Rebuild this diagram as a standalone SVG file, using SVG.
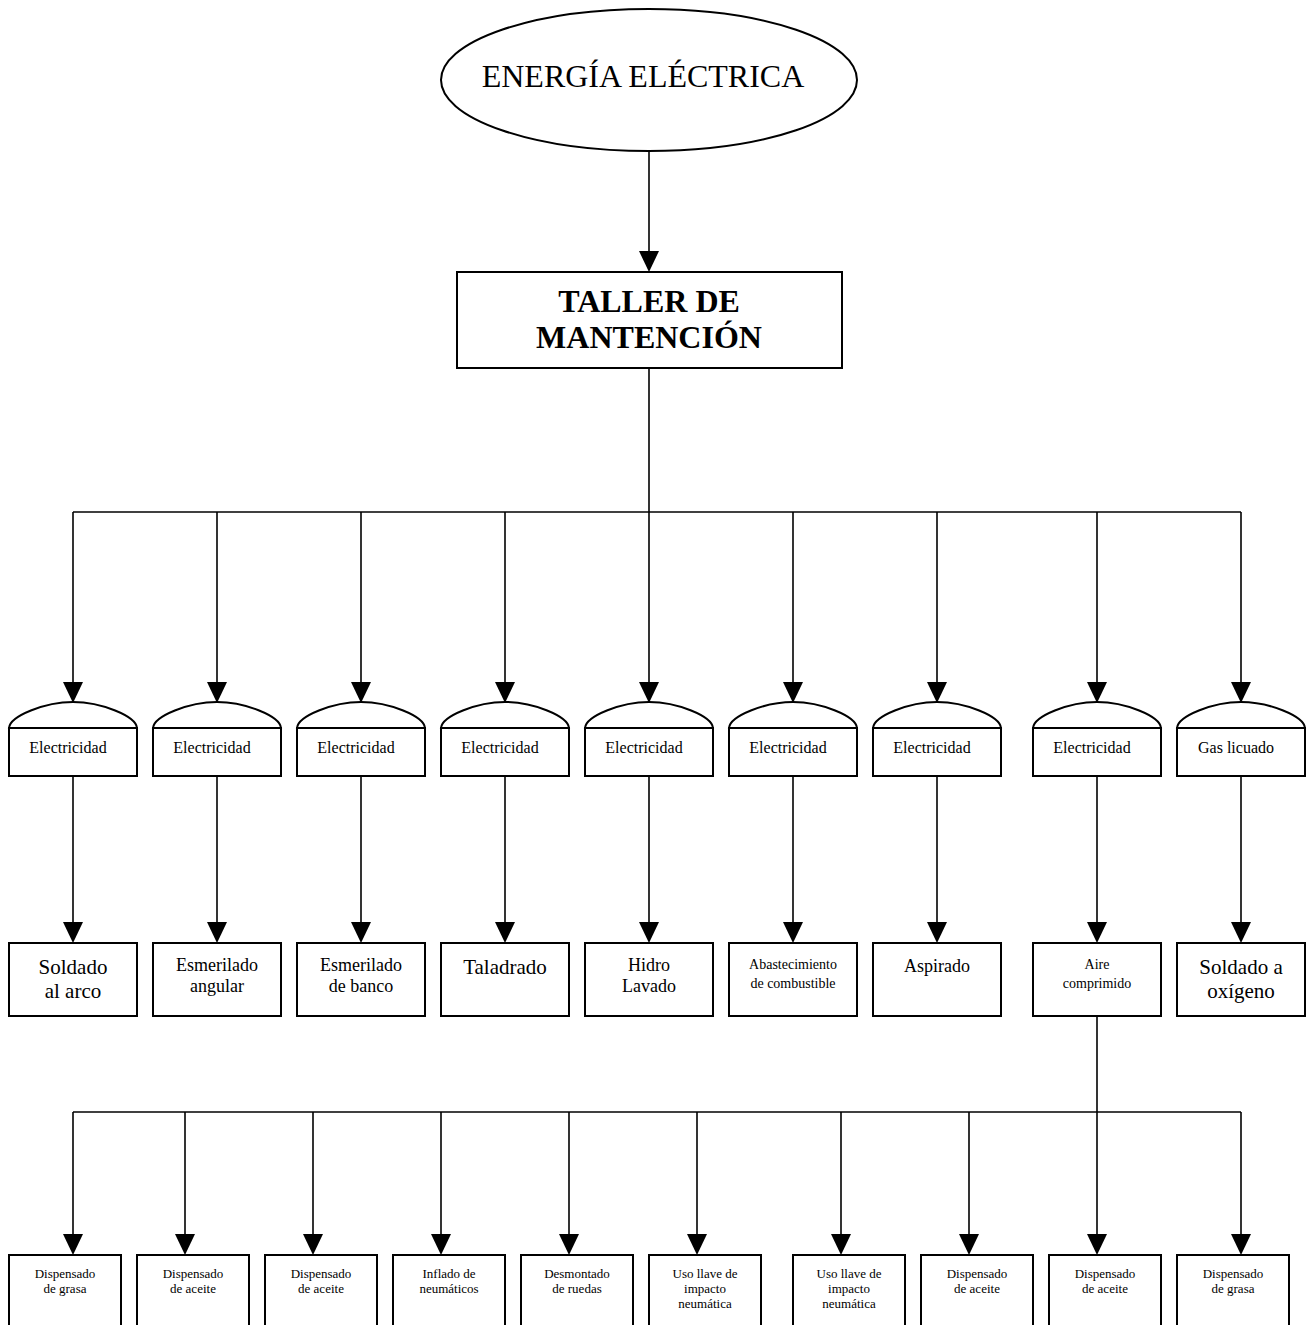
<svg xmlns="http://www.w3.org/2000/svg" width="1313" height="1325" viewBox="0 0 1313 1325">
<style>
  .box { fill: #ffffff; stroke: #000000; stroke-width: 2; }
  .ln { fill: none; stroke: #000000; stroke-width: 1.6; }
  text { font-family: "Liberation Serif", "Times New Roman", serif; fill: #000000; text-anchor: middle; }
  .t32 { font-size: 32px; }
  .t32b { font-size: 32px; font-weight: bold; }
  .t16 { font-size: 16px; }
  .t21 { font-size: 21px; }
  .t18 { font-size: 18px; }
  .t14 { font-size: 14px; }
  .t13 { font-size: 13px; }
</style>
<defs>
  <marker id="arr" viewBox="0 -10 21 20" refX="0" refY="0" markerWidth="21" markerHeight="20" markerUnits="userSpaceOnUse" orient="auto">
    <path d="M0,-10 L21,0 L0,10 Z" fill="#000000"/>
  </marker>
</defs>
<rect width="1313" height="1325" fill="#ffffff"/>

<g id="connectors">
  <line class="ln" x1="649" y1="151" x2="649" y2="251" marker-end="url(#arr)"/>
  <line class="ln" x1="649" y1="368" x2="649" y2="512"/>
  <line class="ln" x1="73" y1="512" x2="1241" y2="512"/>
  <line class="ln" x1="73" y1="512" x2="73" y2="682" marker-end="url(#arr)"/>
  <line class="ln" x1="217" y1="512" x2="217" y2="682" marker-end="url(#arr)"/>
  <line class="ln" x1="361" y1="512" x2="361" y2="682" marker-end="url(#arr)"/>
  <line class="ln" x1="505" y1="512" x2="505" y2="682" marker-end="url(#arr)"/>
  <line class="ln" x1="649" y1="512" x2="649" y2="682" marker-end="url(#arr)"/>
  <line class="ln" x1="793" y1="512" x2="793" y2="682" marker-end="url(#arr)"/>
  <line class="ln" x1="937" y1="512" x2="937" y2="682" marker-end="url(#arr)"/>
  <line class="ln" x1="1097" y1="512" x2="1097" y2="682" marker-end="url(#arr)"/>
  <line class="ln" x1="1241" y1="512" x2="1241" y2="682" marker-end="url(#arr)"/>

  <line class="ln" x1="73" y1="776" x2="73" y2="922" marker-end="url(#arr)"/>
  <line class="ln" x1="217" y1="776" x2="217" y2="922" marker-end="url(#arr)"/>
  <line class="ln" x1="361" y1="776" x2="361" y2="922" marker-end="url(#arr)"/>
  <line class="ln" x1="505" y1="776" x2="505" y2="922" marker-end="url(#arr)"/>
  <line class="ln" x1="649" y1="776" x2="649" y2="922" marker-end="url(#arr)"/>
  <line class="ln" x1="793" y1="776" x2="793" y2="922" marker-end="url(#arr)"/>
  <line class="ln" x1="937" y1="776" x2="937" y2="922" marker-end="url(#arr)"/>
  <line class="ln" x1="1097" y1="776" x2="1097" y2="922" marker-end="url(#arr)"/>
  <line class="ln" x1="1241" y1="776" x2="1241" y2="922" marker-end="url(#arr)"/>

  <line class="ln" x1="1097" y1="1016" x2="1097" y2="1112"/>
  <line class="ln" x1="73" y1="1112" x2="1241" y2="1112"/>
  <line class="ln" x1="73" y1="1112" x2="73" y2="1234" marker-end="url(#arr)"/>
  <line class="ln" x1="185" y1="1112" x2="185" y2="1234" marker-end="url(#arr)"/>
  <line class="ln" x1="313" y1="1112" x2="313" y2="1234" marker-end="url(#arr)"/>
  <line class="ln" x1="441" y1="1112" x2="441" y2="1234" marker-end="url(#arr)"/>
  <line class="ln" x1="569" y1="1112" x2="569" y2="1234" marker-end="url(#arr)"/>
  <line class="ln" x1="697" y1="1112" x2="697" y2="1234" marker-end="url(#arr)"/>
  <line class="ln" x1="841" y1="1112" x2="841" y2="1234" marker-end="url(#arr)"/>
  <line class="ln" x1="969" y1="1112" x2="969" y2="1234" marker-end="url(#arr)"/>
  <line class="ln" x1="1097" y1="1112" x2="1097" y2="1234" marker-end="url(#arr)"/>
  <line class="ln" x1="1241" y1="1112" x2="1241" y2="1234" marker-end="url(#arr)"/>
</g>

<g id="energia">
  <ellipse class="box" cx="649" cy="80" rx="208" ry="71"/>
  <text class="t32" x="643" y="87">ENERGÍA ELÉCTRICA</text>
</g>

<g id="taller">
  <rect class="box" x="457" y="272" width="385" height="96"/>
  <text class="t32b" x="649" y="312">TALLER DE</text>
  <text class="t32b" x="649" y="348">MANTENCIÓN</text>
</g>

<g id="src1"><path class="box" d="M9,728 C10,716 45,702 73,702 C101,702 136,716 137,728 Z"/><rect class="box" x="9" y="728" width="128" height="48"/><text class="t16" x="68" y="753">Electricidad</text></g>
<g id="src2"><path class="box" d="M153,728 C154,716 189,702 217,702 C245,702 280,716 281,728 Z"/><rect class="box" x="153" y="728" width="128" height="48"/><text class="t16" x="212" y="753">Electricidad</text></g>
<g id="src3"><path class="box" d="M297,728 C298,716 333,702 361,702 C389,702 424,716 425,728 Z"/><rect class="box" x="297" y="728" width="128" height="48"/><text class="t16" x="356" y="753">Electricidad</text></g>
<g id="src4"><path class="box" d="M441,728 C442,716 477,702 505,702 C533,702 568,716 569,728 Z"/><rect class="box" x="441" y="728" width="128" height="48"/><text class="t16" x="500" y="753">Electricidad</text></g>
<g id="src5"><path class="box" d="M585,728 C586,716 621,702 649,702 C677,702 712,716 713,728 Z"/><rect class="box" x="585" y="728" width="128" height="48"/><text class="t16" x="644" y="753">Electricidad</text></g>
<g id="src6"><path class="box" d="M729,728 C730,716 765,702 793,702 C821,702 856,716 857,728 Z"/><rect class="box" x="729" y="728" width="128" height="48"/><text class="t16" x="788" y="753">Electricidad</text></g>
<g id="src7"><path class="box" d="M873,728 C874,716 909,702 937,702 C965,702 1000,716 1001,728 Z"/><rect class="box" x="873" y="728" width="128" height="48"/><text class="t16" x="932" y="753">Electricidad</text></g>
<g id="src8"><path class="box" d="M1033,728 C1034,716 1069,702 1097,702 C1125,702 1160,716 1161,728 Z"/><rect class="box" x="1033" y="728" width="128" height="48"/><text class="t16" x="1092" y="753">Electricidad</text></g>
<g id="src9"><path class="box" d="M1177,728 C1178,716 1213,702 1241,702 C1269,702 1304,716 1305,728 Z"/><rect class="box" x="1177" y="728" width="128" height="48"/><text class="t16" x="1236" y="753">Gas licuado</text></g>

<g id="proc1"><rect class="box" x="9" y="943" width="128" height="73"/><text class="t21" x="73" y="974">Soldado</text><text class="t21" x="73" y="998">al arco</text></g>
<g id="proc2"><rect class="box" x="153" y="943" width="128" height="73"/><text class="t18" x="217" y="971">Esmerilado</text><text class="t18" x="217" y="992">angular</text></g>
<g id="proc3"><rect class="box" x="297" y="943" width="128" height="73"/><text class="t18" x="361" y="971">Esmerilado</text><text class="t18" x="361" y="992">de banco</text></g>
<g id="proc4"><rect class="box" x="441" y="943" width="128" height="73"/><text class="t21" x="505" y="974">Taladrado</text></g>
<g id="proc5"><rect class="box" x="585" y="943" width="128" height="73"/><text class="t18" x="649" y="971">Hidro</text><text class="t18" x="649" y="992">Lavado</text></g>
<g id="proc6"><rect class="box" x="729" y="943" width="128" height="73"/><text class="t14" x="793" y="969">Abastecimiento</text><text class="t14" x="793" y="988">de combustible</text></g>
<g id="proc7"><rect class="box" x="873" y="943" width="128" height="73"/><text class="t18" x="937" y="972">Aspirado</text></g>
<g id="proc8"><rect class="box" x="1033" y="943" width="128" height="73"/><text class="t14" x="1097" y="969">Aire</text><text class="t14" x="1097" y="988">comprimido</text></g>
<g id="proc9"><rect class="box" x="1177" y="943" width="128" height="73"/><text class="t21" x="1241" y="974">Soldado a</text><text class="t21" x="1241" y="998">oxígeno</text></g>

<g id="sub1"><rect class="box" x="9" y="1255" width="112" height="90"/><text class="t13" x="65" y="1278">Dispensado</text><text class="t13" x="65" y="1293">de grasa</text></g>
<g id="sub2"><rect class="box" x="137" y="1255" width="112" height="90"/><text class="t13" x="193" y="1278">Dispensado</text><text class="t13" x="193" y="1293">de aceite</text></g>
<g id="sub3"><rect class="box" x="265" y="1255" width="112" height="90"/><text class="t13" x="321" y="1278">Dispensado</text><text class="t13" x="321" y="1293">de aceite</text></g>
<g id="sub4"><rect class="box" x="393" y="1255" width="112" height="90"/><text class="t13" x="449" y="1278">Inflado de</text><text class="t13" x="449" y="1293">neumáticos</text></g>
<g id="sub5"><rect class="box" x="521" y="1255" width="112" height="90"/><text class="t13" x="577" y="1278">Desmontado</text><text class="t13" x="577" y="1293">de ruedas</text></g>
<g id="sub6"><rect class="box" x="649" y="1255" width="112" height="90"/><text class="t13" x="705" y="1278">Uso llave de</text><text class="t13" x="705" y="1293">impacto</text><text class="t13" x="705" y="1308">neumática</text></g>
<g id="sub7"><rect class="box" x="793" y="1255" width="112" height="90"/><text class="t13" x="849" y="1278">Uso llave de</text><text class="t13" x="849" y="1293">impacto</text><text class="t13" x="849" y="1308">neumática</text></g>
<g id="sub8"><rect class="box" x="921" y="1255" width="112" height="90"/><text class="t13" x="977" y="1278">Dispensado</text><text class="t13" x="977" y="1293">de aceite</text></g>
<g id="sub9"><rect class="box" x="1049" y="1255" width="112" height="90"/><text class="t13" x="1105" y="1278">Dispensado</text><text class="t13" x="1105" y="1293">de aceite</text></g>
<g id="sub10"><rect class="box" x="1177" y="1255" width="112" height="90"/><text class="t13" x="1233" y="1278">Dispensado</text><text class="t13" x="1233" y="1293">de grasa</text></g>
</svg>
